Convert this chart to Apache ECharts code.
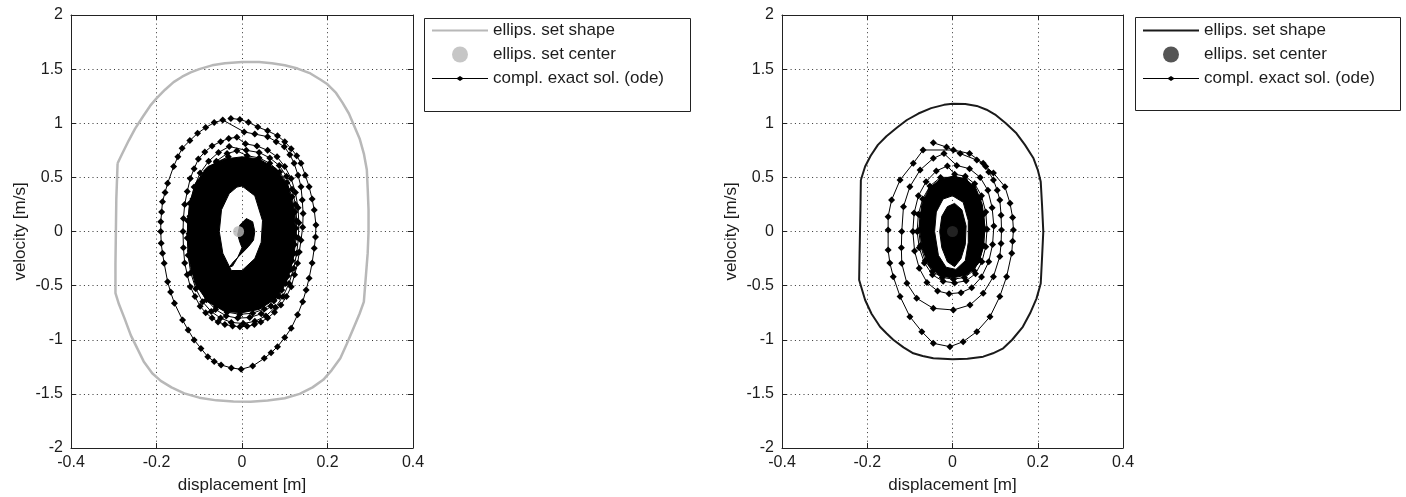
<!DOCTYPE html>
<html>
<head>
<meta charset="utf-8">
<title>Phase portraits</title>
<script src="https://cdn.jsdelivr.net/npm/echarts@6/dist/echarts.min.js"></script>
<style>
  html, body { margin: 0; padding: 0; background: #fff; }
  #chart { width: 1406px; height: 497px; }
</style>
</head>
<body>
<div id="chart"></div>
<script>
// ---- axis ticks ----
const xTicks = [-0.4, -0.2, 0, 0.2, 0.4];
const yTicks = [-2, -1.5, -1, -0.5, 0, 0.5, 1, 1.5, 2];

const legendNames = ['ellips. set shape', 'ellips. set center', 'compl. exact sol. (ode)'];

// ---- left plot: ellipsoidal set (displacement, velocity) ----
const leftShape = [
  [-0.291, 0.63], [-0.28, 0.72], [-0.265, 0.84], [-0.25, 0.95], [-0.232, 1.06], [-0.215, 1.16],
  [-0.2, 1.23], [-0.18, 1.31], [-0.16, 1.38], [-0.14, 1.43], [-0.12, 1.47], [-0.1, 1.50],
  [-0.07, 1.535], [-0.04, 1.555], [0.0, 1.565], [0.04, 1.565], [0.07, 1.555], [0.1, 1.535],
  [0.13, 1.505], [0.16, 1.46], [0.185, 1.40], [0.2, 1.36], [0.22, 1.28], [0.235, 1.19],
  [0.25, 1.09], [0.262, 0.98], [0.275, 0.86], [0.285, 0.72], [0.292, 0.57],
  [0.294, 0.4], [0.296, 0.2], [0.296, 0.0], [0.294, -0.2], [0.29, -0.4], [0.285, -0.65],
  [0.275, -0.76], [0.26, -0.9], [0.245, -1.04], [0.23, -1.17], [0.21, -1.28], [0.19, -1.37],
  [0.165, -1.44], [0.135, -1.5], [0.1, -1.54], [0.06, -1.562], [0.02, -1.572], [-0.02, -1.57],
  [-0.06, -1.56], [-0.1, -1.535], [-0.135, -1.495], [-0.165, -1.44], [-0.19, -1.38],
  [-0.21, -1.31], [-0.23, -1.2], [-0.245, -1.08], [-0.26, -0.96], [-0.275, -0.8],
  [-0.288, -0.67], [-0.296, -0.57], [-0.296, -0.3], [-0.295, 0.0], [-0.294, 0.3], [-0.291, 0.63]
];
const leftCenter = [[-0.008, 0.0]];

// exact solution, outer revolutions
const leftLoopA = [
  [-0.026, 1.045], [-0.005, 1.035], [0.015, 1.01], [0.037, 0.965], [0.06, 0.93], [0.083, 0.885],
  [0.10, 0.83], [0.115, 0.765], [0.128, 0.70], [0.138, 0.63], [0.148, 0.52], [0.157, 0.414],
  [0.164, 0.30], [0.169, 0.199], [0.173, 0.06], [0.172, -0.05], [0.169, -0.155], [0.164, -0.29],
  [0.157, -0.432], [0.15, -0.54], [0.142, -0.648], [0.13, -0.77], [0.115, -0.894], [0.10, -0.98],
  [0.083, -1.064], [0.068, -1.12], [0.052, -1.172], [0.025, -1.243], [-0.002, -1.273],
  [-0.025, -1.26], [-0.049, -1.233], [-0.065, -1.20], [-0.080, -1.157], [-0.096, -1.08],
  [-0.112, -1.002], [-0.126, -0.91], [-0.139, -0.818], [-0.158, -0.663], [-0.167, -0.56],
  [-0.174, -0.464], [-0.182, -0.294], [-0.186, -0.20], [-0.189, -0.109], [-0.19, 0.0],
  [-0.19, 0.09], [-0.188, 0.18], [-0.186, 0.275], [-0.18, 0.36], [-0.174, 0.445],
  [-0.16, 0.60], [-0.150, 0.69], [-0.140, 0.768], [-0.122, 0.84], [-0.104, 0.907],
  [-0.085, 0.96], [-0.065, 1.006], [-0.045, 1.03]
];
const leftLoopB = [
  [0.005, 0.92], [0.03, 0.90], [0.06, 0.876], [0.08, 0.83], [0.099, 0.784], [0.112, 0.71],
  [0.122, 0.63], [0.131, 0.52], [0.138, 0.414], [0.141, 0.29], [0.143, 0.166], [0.142, 0.04],
  [0.138, -0.08], [0.134, -0.19], [0.13, -0.294], [0.123, -0.40], [0.115, -0.51], [0.104, -0.60],
  [0.091, -0.68], [0.076, -0.745], [0.06, -0.80], [0.044, -0.835], [0.029, -0.86], [0.012, -0.875],
  [-0.005, -0.88], [-0.022, -0.872], [-0.04, -0.86], [-0.056, -0.835], [-0.07, -0.80],
  [-0.085, -0.75], [-0.098, -0.69], [-0.11, -0.60], [-0.121, -0.51], [-0.128, -0.40],
  [-0.134, -0.29], [-0.137, -0.15], [-0.138, 0.0], [-0.137, 0.12], [-0.134, 0.25],
  [-0.128, 0.37], [-0.121, 0.49], [-0.112, 0.58], [-0.102, 0.67], [-0.087, 0.735],
  [-0.07, 0.79], [-0.05, 0.83], [-0.031, 0.86], [-0.012, 0.87]
];
const leftLoopC = [
  [0.008, 0.81], [0.035, 0.79], [0.06, 0.75], [0.082, 0.69], [0.1, 0.6], [0.115, 0.49],
  [0.125, 0.36], [0.131, 0.22], [0.133, 0.08], [0.132, -0.06], [0.128, -0.2], [0.121, -0.34],
  [0.11, -0.48], [0.096, -0.6], [0.078, -0.7], [0.056, -0.78], [0.03, -0.83], [0.003, -0.85],
  [-0.025, -0.84], [-0.05, -0.8], [-0.072, -0.74], [-0.092, -0.65], [-0.108, -0.53],
  [-0.12, -0.38], [-0.126, -0.22], [-0.128, -0.06], [-0.127, 0.1], [-0.122, 0.26],
  [-0.112, 0.41], [-0.098, 0.54], [-0.078, 0.65], [-0.055, 0.73], [-0.03, 0.785]
];
const leftLoopD = [
  [0.01, 0.75], [0.04, 0.73], [0.065, 0.68], [0.087, 0.61], [0.104, 0.51], [0.117, 0.39],
  [0.125, 0.25], [0.128, 0.1], [0.127, -0.05], [0.122, -0.2], [0.114, -0.35], [0.102, -0.48],
  [0.087, -0.6], [0.068, -0.69], [0.045, -0.76], [0.018, -0.795], [-0.01, -0.8], [-0.037, -0.78],
  [-0.062, -0.72], [-0.083, -0.63], [-0.1, -0.51], [-0.112, -0.36], [-0.119, -0.2],
  [-0.121, -0.04], [-0.119, 0.12], [-0.112, 0.28], [-0.1, 0.42], [-0.082, 0.55],
  [-0.06, 0.65], [-0.035, 0.72], [-0.012, 0.745]
];
const leftLoopE = [
  [0.012, 0.7], [0.04, 0.68], [0.065, 0.63], [0.088, 0.55], [0.105, 0.45], [0.117, 0.32],
  [0.124, 0.18], [0.126, 0.03], [0.123, -0.12], [0.117, -0.27], [0.107, -0.41], [0.093, -0.54],
  [0.075, -0.64], [0.052, -0.715], [0.025, -0.755], [-0.005, -0.765], [-0.035, -0.745],
  [-0.06, -0.69], [-0.082, -0.6], [-0.1, -0.48], [-0.113, -0.34], [-0.121, -0.18],
  [-0.124, -0.02], [-0.122, 0.14], [-0.115, 0.3], [-0.102, 0.44], [-0.083, 0.56],
  [-0.06, 0.64], [-0.032, 0.69]
];
// densely wound part of the solution: outer edge, inner hole and the starting core
const leftBandOuter = [
  [0.0, 0.69], [0.04, 0.67], [0.08, 0.58], [0.108, 0.42], [0.122, 0.2], [0.125, 0.0],
  [0.12, -0.25], [0.105, -0.45], [0.08, -0.62], [0.04, -0.72], [0.0, -0.75], [-0.04, -0.74],
  [-0.08, -0.65], [-0.11, -0.48], [-0.125, -0.25], [-0.128, 0.0], [-0.123, 0.25],
  [-0.108, 0.45], [-0.08, 0.6], [-0.04, 0.67]
];
const leftBandHole = [
  [0.0, 0.42], [0.03, 0.33], [0.048, 0.1], [0.045, -0.1], [0.03, -0.25], [0.0, -0.36],
  [-0.025, -0.36], [-0.045, -0.2], [-0.053, 0.0], [-0.048, 0.2], [-0.03, 0.35], [-0.012, 0.41]
];
const leftCore = [
  [0.01, 0.12], [0.025, 0.09], [0.03, 0.0], [0.027, -0.08], [0.015, -0.14], [0.0, -0.2],
  [-0.02, -0.28], [-0.03, -0.33], [-0.022, -0.32], [-0.01, -0.24], [0.0, -0.15],
  [-0.005, -0.1], [-0.01, -0.03], [-0.005, 0.06]
];

// ---- right plot ----
const rightShape = [
  [-0.215, 0.476], [-0.205, 0.6], [-0.192, 0.7], [-0.175, 0.8], [-0.155, 0.88], [-0.13, 0.96],
  [-0.107, 1.03], [-0.08, 1.09], [-0.05, 1.14], [-0.02, 1.17], [0.0, 1.18], [0.03, 1.178],
  [0.057, 1.16], [0.08, 1.125], [0.1, 1.08], [0.125, 1.0], [0.15, 0.907], [0.17, 0.8],
  [0.19, 0.676], [0.2, 0.57], [0.207, 0.46], [0.21, 0.25], [0.213, 0.0], [0.21, -0.25],
  [0.207, -0.48], [0.197, -0.62], [0.182, -0.756], [0.165, -0.88], [0.14, -1.0],
  [0.119, -1.079], [0.095, -1.125], [0.072, -1.156], [0.035, -1.175], [0.0, -1.18],
  [-0.045, -1.17], [-0.07, -1.15], [-0.092, -1.125], [-0.115, -1.07], [-0.139, -1.0],
  [-0.155, -0.94], [-0.17, -0.88], [-0.19, -0.76], [-0.205, -0.633], [-0.219, -0.448],
  [-0.218, -0.2], [-0.216, 0.2], [-0.215, 0.476]
];
const rightCenter = [[0.0, 0.0]];

const rightLoopA = [
  [-0.045, 0.82], [-0.014, 0.78], [0.018, 0.72], [0.057, 0.66], [0.078, 0.60], [0.096, 0.54],
  [0.123, 0.414], [0.135, 0.26], [0.141, 0.13], [0.143, 0.014], [0.141, -0.09], [0.139, -0.2],
  [0.127, -0.417], [0.111, -0.60], [0.088, -0.787], [0.057, -0.925], [0.025, -1.018],
  [-0.006, -1.064], [-0.045, -1.033], [-0.072, -0.925], [-0.1, -0.787], [-0.123, -0.60],
  [-0.139, -0.417], [-0.147, -0.29], [-0.151, -0.171], [-0.151, 0.014], [-0.151, 0.137],
  [-0.143, 0.29], [-0.123, 0.476], [-0.092, 0.63], [-0.069, 0.753]
];
const rightLoopB = [
  [0.002, 0.753], [0.04, 0.72], [0.072, 0.63], [0.085, 0.55], [0.096, 0.476], [0.105, 0.38],
  [0.111, 0.29], [0.114, 0.15], [0.115, 0.014], [0.114, -0.11], [0.111, -0.23], [0.096, -0.417],
  [0.072, -0.571], [0.041, -0.679], [0.002, -0.725], [-0.045, -0.71], [-0.084, -0.617],
  [-0.107, -0.479], [-0.119, -0.294], [-0.12, -0.15], [-0.119, 0.0], [-0.115, 0.229],
  [-0.1, 0.414], [-0.076, 0.568], [-0.045, 0.676], [-0.02, 0.72]
];
const rightLoopC = [
  [0.01, 0.61], [0.04, 0.58], [0.065, 0.5], [0.083, 0.38], [0.093, 0.22], [0.097, 0.05],
  [0.094, -0.12], [0.085, -0.28], [0.068, -0.42], [0.045, -0.52], [0.02, -0.565],
  [-0.008, -0.575], [-0.035, -0.55], [-0.06, -0.47], [-0.078, -0.34], [-0.089, -0.18],
  [-0.093, 0.0], [-0.09, 0.17], [-0.08, 0.33], [-0.062, 0.46], [-0.038, 0.56], [-0.012, 0.605]
];
const rightLoopD = [
  [0.005, 0.53], [0.03, 0.51], [0.052, 0.44], [0.068, 0.33], [0.078, 0.18], [0.081, 0.02],
  [0.078, -0.14], [0.069, -0.28], [0.054, -0.39], [0.032, -0.455], [0.005, -0.475],
  [-0.022, -0.46], [-0.047, -0.4], [-0.066, -0.29], [-0.078, -0.15], [-0.083, 0.0],
  [-0.08, 0.16], [-0.07, 0.3], [-0.053, 0.42], [-0.028, 0.5]
];
const rightLoopE = [
  [0.005, 0.5], [0.028, 0.48], [0.048, 0.41], [0.063, 0.3], [0.073, 0.16], [0.076, 0.02],
  [0.073, -0.13], [0.064, -0.26], [0.05, -0.36], [0.028, -0.425], [0.002, -0.44],
  [-0.024, -0.425], [-0.047, -0.37], [-0.064, -0.27], [-0.075, -0.13], [-0.079, 0.01],
  [-0.076, 0.15], [-0.066, 0.29], [-0.05, 0.4], [-0.026, 0.47]
];
const rightBandOuter = [
  [0.0, 0.51], [0.03, 0.49], [0.055, 0.4], [0.07, 0.25], [0.076, 0.05], [0.072, -0.15],
  [0.06, -0.3], [0.035, -0.4], [0.0, -0.43], [-0.03, -0.41], [-0.055, -0.32], [-0.072, -0.15],
  [-0.078, 0.05], [-0.072, 0.25], [-0.055, 0.4], [-0.03, 0.48]
];
const rightBandHole = [
  [0.0, 0.33], [0.025, 0.27], [0.037, 0.1], [0.037, -0.1], [0.03, -0.27], [0.008, -0.35],
  [-0.015, -0.33], [-0.033, -0.22], [-0.042, 0.0], [-0.038, 0.18], [-0.022, 0.3]
];
const rightCore = [
  [0.005, 0.26], [0.022, 0.2], [0.032, 0.05], [0.03, -0.12], [0.02, -0.25], [0.005, -0.325],
  [-0.012, -0.28], [-0.025, -0.15], [-0.03, 0.0], [-0.025, 0.14], [-0.012, 0.23]
];

const leftTrajectory = [].concat(leftLoopA, leftLoopB, leftLoopC, leftLoopD, leftLoopE);
const rightTrajectory = [].concat(rightLoopA, rightLoopB, rightLoopC, rightLoopD, rightLoopE);

// ---- styling ----
const FONT = '"Liberation Sans", Arial, Helvetica, sans-serif';
const INK = '#1c1c1c';
const GREY = '#b8b8b8';

function gridAxes(gridIndex) {
  const common = {
    type: 'value',
    gridIndex: gridIndex,
    axisLine: { show: true, onZero: false, lineStyle: { color: '#222', width: 1 } },
    axisTick: { show: true, inside: true, length: 5, lineStyle: { color: '#222' } },
    splitLine: { show: false }
  };
  const xb = Object.assign({}, common, {
    position: 'bottom', min: xTicks[0], max: xTicks[xTicks.length - 1], interval: 0.2,
    splitLine: { show: true, lineStyle: { color: '#333', type: [1, 3.3], width: 1 } },
    axisLabel: { color: INK, fontFamily: FONT, fontSize: 16, margin: 7, formatter: v => String(+v.toFixed(1)) },
    name: 'displacement [m]', nameLocation: 'middle', nameGap: 29,
    nameTextStyle: { color: INK, fontFamily: FONT, fontSize: 17 }
  });
  const xt = Object.assign({}, common, {
    position: 'top', min: xTicks[0], max: xTicks[xTicks.length - 1], interval: 0.2,
    axisLabel: { show: false }
  });
  const yl = Object.assign({}, common, {
    position: 'left', min: yTicks[0], max: yTicks[yTicks.length - 1], interval: 0.5,
    splitLine: { show: true, lineStyle: { color: '#333', type: [1, 3.3], width: 1 } },
    axisLabel: { color: INK, fontFamily: FONT, fontSize: 16, margin: 8, formatter: v => String(+v.toFixed(1)) },
    name: 'velocity [m/s]', nameLocation: 'middle', nameGap: 42,
    nameTextStyle: { color: INK, fontFamily: FONT, fontSize: 17 }
  });
  const yr = Object.assign({}, common, {
    position: 'right', min: yTicks[0], max: yTicks[yTicks.length - 1], interval: 0.5,
    axisLabel: { show: false }
  });
  return { x: [xb, xt], y: [yl, yr] };
}

const gl = gridAxes(0);
const gr = gridAxes(1);

// filled region of tightly wound revolutions: outer contour with a hole, plus the core
function bandRenderer(outer, hole, core) {
  return function (params, api) {
    const toPath = (pts, reverse) => {
      const arr = reverse ? pts.slice().reverse() : pts;
      return arr.map((p, i) => {
        const c = api.coord(p);
        return (i ? 'L' : 'M') + c[0].toFixed(1) + ',' + c[1].toFixed(1);
      }).join(' ') + ' Z';
    };
    return {
      type: 'group',
      children: [
        { type: 'path', shape: { pathData: toPath(outer, false) + ' ' + toPath(hole, true) },
          style: { fill: '#000', stroke: '#000', lineWidth: 1 } },
        { type: 'path', shape: { pathData: toPath(core, false) },
          style: { fill: '#000', stroke: '#000', lineWidth: 1 } }
      ]
    };
  };
}

const ICON_LINE = 'path://M0,0 L56,0 L56,2 L0,2 Z';
const ICON_MARKED = 'path://M0,2 L25,2 L28,0 L31,2 L56,2 L56,3 L31,3 L28,5 L25,3 L0,3 Z';

function legendFor(prefix, left) {
  return {
    orient: 'vertical',
    left: left, top: 22,
    padding: 0,
    itemWidth: 56, itemHeight: 16, itemGap: 7,
    selectedMode: false,
    symbolKeepAspect: true,
    itemStyle: { borderWidth: 0 },
    textStyle: { color: INK, fontFamily: FONT, fontSize: 17, lineHeight: 17 },
    formatter: n => n.slice(prefix.length),
    data: [
      { name: prefix + legendNames[0], icon: ICON_LINE },
      { name: prefix + legendNames[1], icon: 'circle' },
      { name: prefix + legendNames[2], icon: ICON_MARKED }
    ]
  };
}

function seriesFor(prefix, xi, yi, shape, shapeColor, shapeWidth, center, centerColor, traj, outer, hole, core) {
  return [
    {
      type: 'custom', coordinateSystem: 'cartesian2d', xAxisIndex: xi, yAxisIndex: yi,
      silent: true, z: 2, data: [[0, 0]], encode: { x: 0, y: 1 },
      renderItem: bandRenderer(outer, hole, core)
    },
    {
      name: prefix + legendNames[2], type: 'line', xAxisIndex: xi, yAxisIndex: yi,
      data: traj, z: 3, color: '#000',
      symbol: 'diamond', symbolSize: 7, showSymbol: true,
      lineStyle: { color: '#000', width: 1 }, itemStyle: { color: '#000' }
    },
    {
      name: prefix + legendNames[0], type: 'line', xAxisIndex: xi, yAxisIndex: yi,
      data: shape, z: 4, color: shapeColor, symbol: 'none',
      lineStyle: { color: shapeColor, width: shapeWidth }, itemStyle: { color: shapeColor }
    },
    {
      name: prefix + legendNames[1], type: 'scatter', xAxisIndex: xi, yAxisIndex: yi,
      data: center, z: 5, color: centerColor, symbol: 'circle', symbolSize: 11,
      itemStyle: { color: centerColor }
    }
  ];
}

const chart = echarts.init(document.getElementById('chart'), null, { renderer: 'canvas' });
chart.setOption({
  animation: false,
  backgroundColor: '#fff',
  grid: [
    { left: 71, top: 15, width: 342, height: 433, show: false, containLabel: false, outerBoundsMode: 'none' },
    { left: 782, top: 15, width: 341, height: 433, show: false, containLabel: false, outerBoundsMode: 'none' }
  ],
  xAxis: [gl.x[0], gl.x[1], gr.x[0], gr.x[1]],
  yAxis: [gl.y[0], gl.y[1], gr.y[0], gr.y[1]],
  legend: [legendFor('L ', 432), legendFor('R ', 1143)],
  graphic: [
    { type: 'rect', left: 422, top: 16, shape: { width: 266, height: 93 },
      style: { fill: 'none', stroke: '#222', lineWidth: 1 }, z: -1 },
    { type: 'rect', left: 1133, top: 15, shape: { width: 265, height: 93 },
      style: { fill: 'none', stroke: '#222', lineWidth: 1 }, z: -1 }
  ],
  series: [].concat(
    seriesFor('L ', 0, 0, leftShape, GREY, 2.5, leftCenter, GREY, leftTrajectory, leftBandOuter, leftBandHole, leftCore),
    seriesFor('R ', 2, 2, rightShape, '#1a1a1a', 2, rightCenter, '#2a2a2a', rightTrajectory, rightBandOuter, rightBandHole, rightCore)
  )
});
</script>
</body>
</html>
